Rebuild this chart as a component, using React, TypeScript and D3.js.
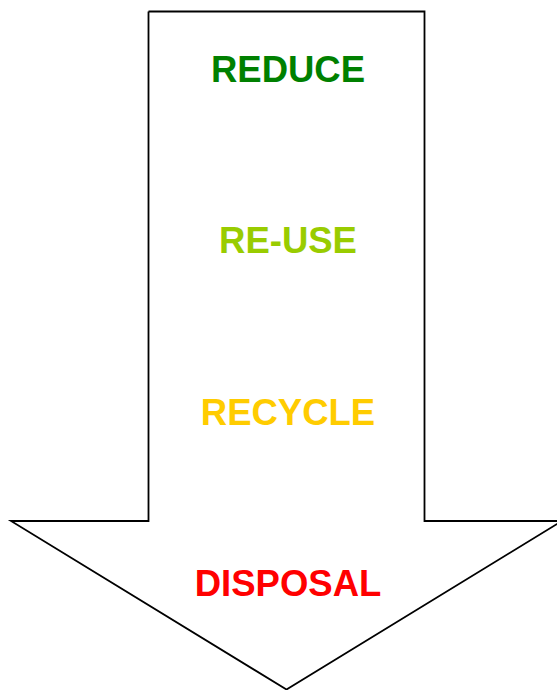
import React from "react";
import * as d3 from "d3";

const steps = ["REDUCE", "RE-USE", "RECYCLE", "DISPOSAL"];
const stepColors = ["#008000", "#99CC00", "#FFCC00", "#FF0000"];

const width = 557;
const height = 690;

const App = () => {
  // arrow geometry in shape units (0..1) mapped to pixels
  const x = d3.scaleLinear().domain([0, 1]).range([11, 562]);
  const y = d3.scaleLinear().domain([0, 1]).range([11.5, 689.5]);

  const arrow = d3.line<[number, number]>()
    .x((d) => x(d[0]))
    .y((d) => y(d[1]));

  const shaftL = (148.5 - 11) / 551;
  const shaftR = (424.5 - 11) / 551;
  const neck = (521 - 11.5) / 678;

  const outline: [number, number][] = [
    [shaftL, 0],
    [shaftR, 0],
    [shaftR, neck],
    [1, neck],
    [0.5, 1],
    [0, neck],
    [shaftL, neck],
    [shaftL, 0],
  ];

  const labelY = d3.scalePoint<string>().domain(steps).range([82, 596]);

  return (
    <div style={{ position: "fixed", left: 0, top: 0 }}>
      <svg width={width} height={height} style={{ display: "block" }}>
        <rect width={width} height={height} fill="white" />
        <path d={arrow(outline) || ""} fill="white" stroke="black" strokeWidth={1.8} strokeLinejoin="miter" />
        {steps.map((s, i) => (
          <text
            key={s}
            x={288}
            y={labelY(s)}
            textAnchor="middle"
            fill={stepColors[i]}
            style={{ fontFamily: "Liberation Sans, Arial, sans-serif", fontWeight: "bold", fontSize: "36.5px" }}
          >
            {s}
          </text>
        ))}
      </svg>
    </div>
  );
};

export default App;
